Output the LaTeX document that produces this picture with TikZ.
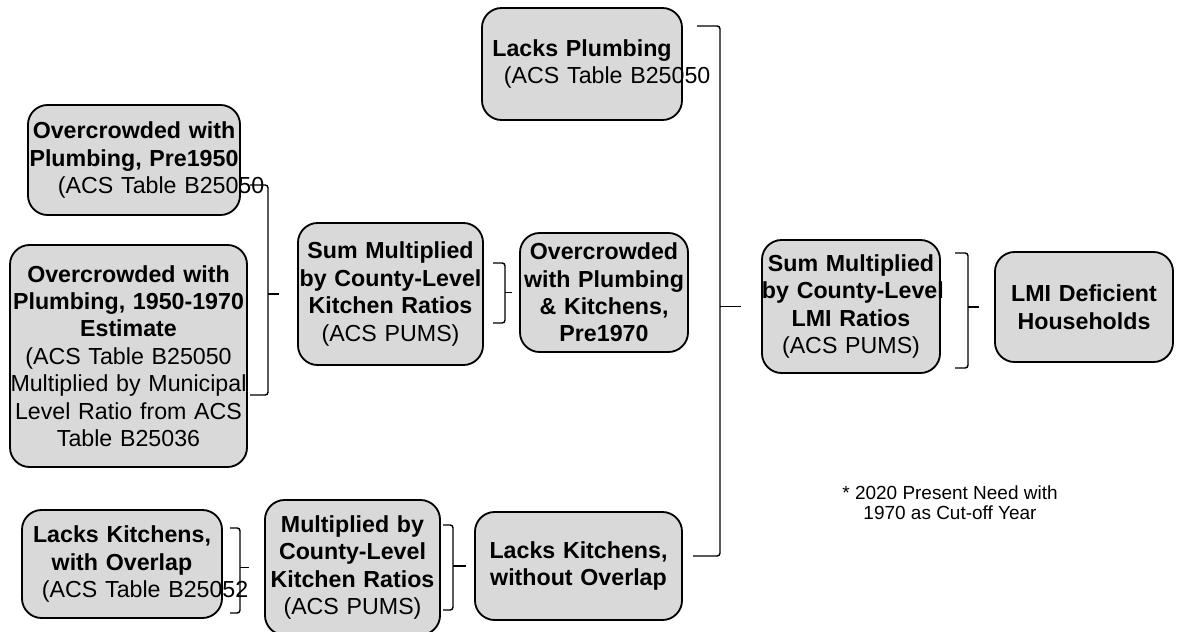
\documentclass[tikz,border=0pt]{standalone}
\usepackage{fontspec}
\setmainfont{Liberation Sans}
\usetikzlibrary{calc}

\tikzset{
  box/.style={draw,line width=1.3pt,rounded corners=14pt,fill=black!15,align=center,
    inner sep=0pt,font=\fontsize{16.5}{19.5}\selectfont},
  brk/.style={line width=1pt,rounded corners=2pt},
  note/.style={align=center,font=\fontsize{13.5}{14.5}\selectfont}
}

\begin{document}
\begin{tikzpicture}[x=0.025cm,y=-0.025cm]
  \useasboundingbox (0,0) rectangle (1183,631);
  % left column
  \node[box,text width=5.3cm,minimum height=2.75cm] (pre50) at (134,160)
    {\textbf{Overcrowded with}\\\textbf{Plumbing, Pre1950}\\\mbox{\hspace*{0.75cm}(ACS Table B25050}};
  \node[box,text width=5.925cm,minimum height=5.55cm] (est) at (128.5,356)
    {\textbf{Overcrowded with}\\\textbf{Plumbing, 1950-1970}\\\textbf{Estimate}\\(ACS Table B25050\\\mbox{Multiplied by Municipal}\\Level Ratio from ACS\\Table B25036};
  \node[box,text width=5cm,minimum height=2.7cm] (kwith) at (122,564)
    {\textbf{Lacks Kitchens,}\\\textbf{with Overlap}\\\mbox{\hspace*{0.5cm}(ACS Table B25052}};
  % middle
  \node[box,text width=4.625cm,minimum height=3.55cm] (sumk) at (390.5,294)
    {\textbf{Sum Multiplied}\\\mbox{\textbf{by County-Level}}\\\textbf{Kitchen Ratios}\\(ACS PUMS)};
  \node[box,text width=4.2cm,minimum height=2.975cm] (pre70) at (604,292.5)
    {\textbf{Overcrowded}\\\textbf{with Plumbing}\\\textbf{\& Kitchens,}\\\textbf{Pre1970}};
  \node[box,text width=5cm,minimum height=2.8cm] (plumb) at (582,64)
    {\textbf{Lacks Plumbing}\\\mbox{\hspace*{0.55cm}(ACS Table B25050}};
  \node[box,text width=4.375cm,minimum height=3.375cm] (multk) at (352.5,567.5)
    {\textbf{Multiplied by}\\\textbf{County-Level}\\\mbox{\textbf{Kitchen Ratios}}\\(ACS PUMS)};
  \node[box,text width=5.175cm,minimum height=2.7cm] (kwithout) at (578.5,566)
    {\textbf{Lacks Kitchens,}\\\textbf{without Overlap}};
  % right
  \node[box,text width=4.45cm,minimum height=3.325cm] (sumlmi) at (851,306.5)
    {\textbf{Sum Multiplied}\\\mbox{\textbf{by County-Level}}\\\textbf{LMI Ratios}\\(ACS PUMS)};
  \node[box,text width=4.45cm,minimum height=2.75cm] (lmi) at (1084,307)
    {\textbf{LMI Deficient}\\\textbf{Households}};
  \node[note] (foot) at (950,503) {* 2020 Present Need with\\1970 as Cut-off Year};

  % brackets
  \draw[brk] (250,185) -| (268,395) -- (250,395);
  \draw[brk] (268,294) -- ($(sumk.west)+(-18,0)$);
  \draw[brk] (493,263) -| (505,323) -- (493,323);
  \draw[brk] (505,292.5) -- ($(pre70.west)+(-7,0)$);
  \draw[brk] (697,26) -| (720,556) -- (693,556);
  \draw[brk] (720,306.5) -- ($(sumlmi.west)+(-20,0)$);
  \draw[brk] (955,253) -| (968,368) -- (955,368);
  \draw[brk] (968,307) -- ($(lmi.west)+(-15,0)$);
  \draw[brk] (230,528) -| (240,613) -- (230,613);
  \draw[brk] (240,567.5) -- ($(multk.west)+(-15,0)$);
  \draw[brk] (443,525) -| (453,610) -- (443,610);
  \draw[brk] (453,566) -- ($(kwithout.west)+(-8,0)$);
\end{tikzpicture}
\end{document}
